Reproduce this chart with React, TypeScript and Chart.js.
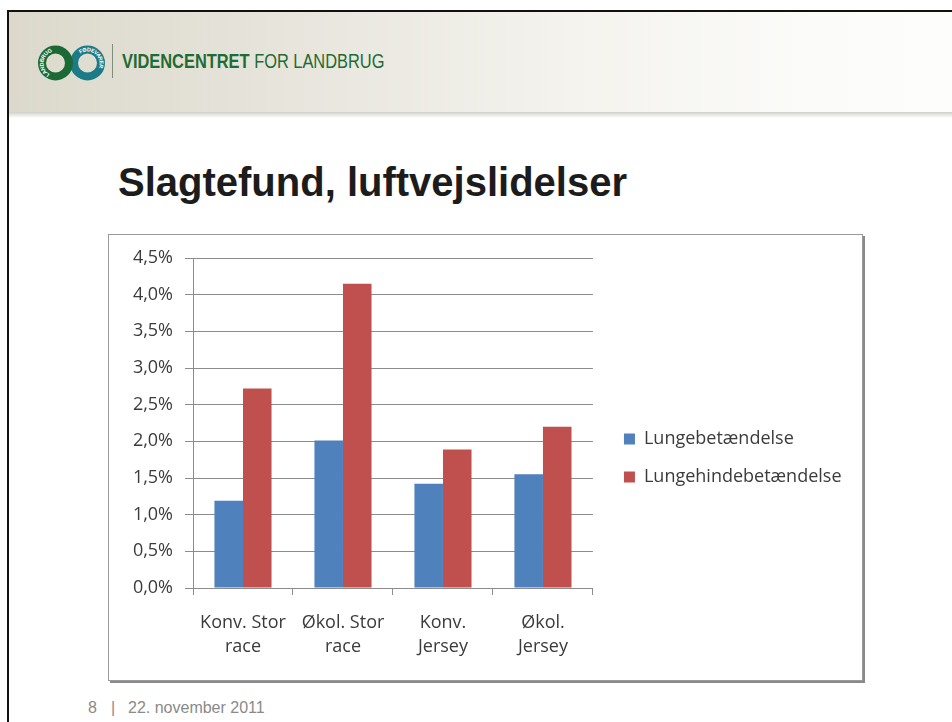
import React, { useEffect, useRef } from 'react';
import { Chart, registerables } from 'chart.js';

Chart.register(...registerables);

// ---- data ----
const categories: string[][] = [
  ['Konv. Stor', 'race'],
  ['Økol. Stor', 'race'],
  ['Konv.', 'Jersey'],
  ['Økol.', 'Jersey'],
];
const seriesNames = ['Lungebetændelse', 'Lungehindebetændelse'];
const lungebetaendelse = [1.19, 2.01, 1.42, 1.55];
const lungehindebetaendelse = [2.72, 4.15, 1.89, 2.2];
const yMin = 0;
const yMax = 4.5;
const yStep = 0.5;

const FONT = "'Open Sans', 'Noto Sans', sans-serif";
const TEXT = '#3b3b3b';
const GRID = '#8c8c8c';

function ChartBox() {
  const ref = useRef<HTMLCanvasElement | null>(null);
  useEffect(() => {
    if (!ref.current) return;
    const chart = new Chart(ref.current, {
      type: 'bar',
      data: {
        labels: categories as any,
        datasets: [
          {
            label: seriesNames[0],
            data: lungebetaendelse,
            backgroundColor: '#4f81bd',
            borderWidth: 0,
            categoryPercentage: 0.571,
            barPercentage: 1,
            yAxisID: 'y',
          },
          {
            label: seriesNames[1],
            data: lungehindebetaendelse,
            backgroundColor: '#c0504d',
            borderWidth: 0,
            categoryPercentage: 0.571,
            barPercentage: 1,
            yAxisID: 'y',
          },
        ],
      },
      options: {
        animation: false,
        responsive: false,
        maintainAspectRatio: false,
        events: [],
        layout: { padding: { top: 23, bottom: 22, left: 0, right: 10.5 } },
        plugins: {
          legend: {
            position: 'right',
            align: 'center',
            maxWidth: 270,
            labels: {
              boxWidth: 11,
              boxHeight: 11,
              padding: 20,
              color: TEXT,
              font: { family: FONT, size: 18 },
            },
          },
          tooltip: { enabled: false },
        },
        scales: {
          x: {
            grid: {
              display: true,
              drawOnChartArea: false,
              drawTicks: true,
              tickLength: 7,
              color: GRID,
            },
            border: { display: true, color: GRID },
            ticks: {
              color: TEXT,
              font: { family: FONT, size: 18, lineHeight: 1.333 },
              padding: 16,
              maxRotation: 0,
              autoSkip: false,
            },
            afterFit: (s: any) => {
              s.height = 70;
            },
          },
          y: {
            min: yMin,
            max: yMax,
            ticks: {
              stepSize: yStep,
              padding: 12,
              color: TEXT,
              font: { family: FONT, size: 18 },
              callback: (v: any) => Number(v).toFixed(1).replace('.', ',') + '%',
            },
            grid: { color: GRID, tickLength: 8 },
            border: { display: true, color: GRID },
            afterFit: (s: any) => {
              s.width = 84;
            },
          },
          y2: {
            position: 'right',
            display: true,
            grid: { display: false },
            border: { display: false },
            ticks: { display: false },
            afterFit: (s: any) => {
              s.width = 11;
            },
          },
        },
      },
    } as any);
    return () => chart.destroy();
  }, []);
  return (
    <canvas
      ref={ref}
      width={753}
      height={445}
      style={{ position: 'absolute', left: 109, top: 235, width: 753, height: 445 }}
    />
  );
}

function Logo() {
  return (
    <svg
      width={80}
      height={44}
      viewBox="0 0 80 44"
      style={{ position: 'absolute', left: 36, top: 41 }}
    >
      <defs>
        <path id="ringA" d="M 19.5 36 A 13.5 13.5 0 1 1 19.6 36" />
        <path id="ringB" d="M 51.5 36 A 13.5 13.5 0 1 1 51.6 36" />
      </defs>
      <circle cx={51.5} cy={22} r={13.5} fill="none" stroke="#1b7b86" strokeWidth={8} />
      <circle cx={19.5} cy={22} r={13.5} fill="none" stroke="#1b6a36" strokeWidth={8} />
      <text fontSize={5.5} fill="#ffffff" fontFamily="'Liberation Sans', Arial" fontWeight="bold">
        <textPath href="#ringA" startOffset="8%" dominantBaseline="middle">LANDBRUG</textPath>
      </text>
      <text fontSize={5.5} fill="#ffffff" fontFamily="'Liberation Sans', Arial" fontWeight="bold">
        <textPath href="#ringB" startOffset="40%" dominantBaseline="middle">FØDEVARER</textPath>
      </text>
    </svg>
  );
}

export default function App() {
  return (
    <div
      style={{
        position: 'absolute',
        left: 0,
        top: 0,
        width: 952,
        height: 722,
        background: '#ffffff',
        overflow: 'hidden',
      }}
    >
      {/* slide frame */}
      <div style={{ position: 'absolute', left: 7, top: 10, width: 945, height: 2, background: '#111' }} />
      <div style={{ position: 'absolute', left: 7, top: 10, width: 2, height: 712, background: '#111' }} />
      {/* header band */}
      <div
        style={{
          position: 'absolute',
          left: 9,
          top: 12,
          width: 943,
          height: 100,
          background:
            'linear-gradient(to right, #dcd9cc 0%, #e7e5dc 30%, #f4f3ee 60%, #fbfbf9 85%, #fdfdfc 100%)',
        }}
      />
      <div
        style={{
          position: 'absolute',
          left: 9,
          top: 112,
          width: 943,
          height: 6,
          background: 'linear-gradient(to bottom, rgba(150,150,140,0.45), rgba(255,255,255,0))',
        }}
      />
      <Logo />
      <div style={{ position: 'absolute', left: 112, top: 44, width: 1, height: 34, background: '#7d8f7a' }} />
      <div
        style={{
          position: 'absolute',
          left: 122,
          top: 51,
          fontFamily: "'Liberation Sans', Arial, sans-serif",
          fontSize: 20,
          lineHeight: '20px',
          color: '#1f6b34',
          whiteSpace: 'nowrap',
          transform: 'scaleX(0.82)',
          transformOrigin: 'left top',
        }}
      >
        <span style={{ fontWeight: 'bold' }}>VIDENCENTRET</span> FOR LANDBRUG
      </div>
      {/* title */}
      <div
        style={{
          position: 'absolute',
          left: 118,
          top: 162,
          fontFamily: "'Liberation Sans', Arial, sans-serif",
          fontWeight: 'bold',
          fontSize: 40,
          lineHeight: '40px',
          color: '#1c1c1c',
          whiteSpace: 'nowrap',
        }}
      >
        Slagtefund, luftvejslidelser
      </div>
      {/* chart frame */}
      <div
        style={{
          position: 'absolute',
          left: 108,
          top: 234,
          width: 753,
          height: 445,
          border: '1px solid #9a9a9a',
          boxShadow: '2px 2px 0 #8a8a8a',
          background: '#fff',
        }}
      />
      <ChartBox />
      {/* footer */}
      {[
        { t: '8', x: 88 },
        { t: '|', x: 111 },
        { t: '22. november 2011', x: 128 },
      ].map((f) => (
        <div
          key={f.t}
          style={{
            position: 'absolute',
            left: f.x,
            top: 700,
            fontFamily: "'Liberation Sans', Arial, sans-serif",
            fontSize: 16,
            lineHeight: '16px',
            color: '#8a8a8a',
            whiteSpace: 'nowrap',
          }}
        >
          {f.t}
        </div>
      ))}
    </div>
  );
}
